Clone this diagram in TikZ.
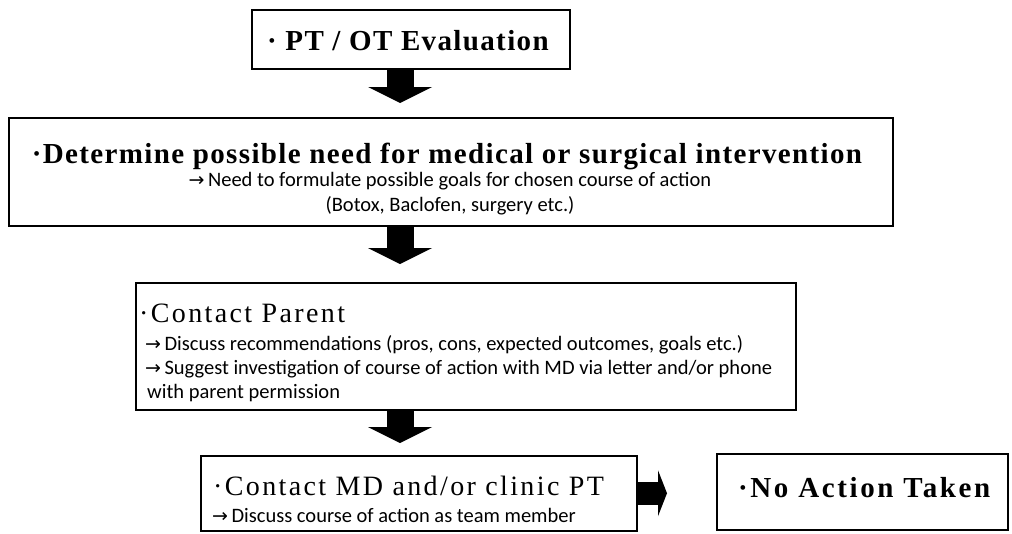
\documentclass[tikz,border=0pt]{standalone}
\usepackage{fontspec}
\setmainfont{Liberation Serif}
\newfontfamily\headfont[LetterSpace=4.7]{Liberation Serif}
\newfontfamily\sidefont[LetterSpace=9]{Liberation Serif}
\newfontfamily\stepfont[LetterSpace=8.5]{Liberation Serif}
\newfontfamily\notefont{Carlito}
\newfontfamily\arrowfont{DejaVu Sans}
\usetikzlibrary{arrows.meta}

\newcommand{\notearrow}{{\arrowfont\fontsize{19}{20}\selectfont →}\,}

\tikzset{
  flowbox/.style={draw, line width=1.5pt, inner sep=0pt, anchor=north west},
  headtext/.style={anchor=base west, inner sep=0pt, font={\headfont\bfseries\fontsize{29}{34}\selectfont}},
  steptext/.style={anchor=base west, inner sep=0pt, font={\stepfont\fontsize{28}{33}\selectfont}},
  notetext/.style={anchor=base west, inner sep=0pt, font={\notefont\fontsize{20.5}{24}\selectfont}},
  downarrow/.style={line width=27pt, -{Triangle[width=64pt, length=16pt, line width=0pt]}},
  sidearrow/.style={line width=23pt, -{Triangle[width=46pt, length=9pt, line width=0pt]}}
}

\begin{document}
\begin{tikzpicture}[x=1pt, y=-1pt]
  \path[fill=white, use as bounding box] (0,0) rectangle (1012,533);

  % boxes
  \node[flowbox, minimum width=318pt, minimum height=59pt] (evalbox) at (251,9) {};
  \node[flowbox, minimum width=884pt, minimum height=108pt] (determinebox) at (8,117) {};
  \node[flowbox, minimum width=660pt, minimum height=127pt] (parentbox) at (135,282) {};
  \node[flowbox, minimum width=436pt, minimum height=75pt] (mdbox) at (200,455) {};
  \node[flowbox, minimum width=291pt, minimum height=76pt] (noactionbox) at (716,453) {};

  % texts
  \node[headtext] (evaltitle) at (267,50) {· PT / OT Evaluation};
  \node[headtext, anchor=base] (determinetitle) at (447,163) {·Determine possible need for medical or surgical intervention};
  \node[notetext, anchor=base] (determinenote) at (450,186) {\notearrow Need to formulate possible goals for chosen course of action};
  \node[notetext, anchor=base] (determinelist) at (450,211) {(Botox, Baclofen, surgery etc.)};

  \node[steptext] (parenttitle) at (139,322) {·Contact Parent};
  \node[notetext] (parentnote) at (145,350) {\notearrow Discuss recommendations (pros, cons, expected outcomes, goals etc.)};
  \node[notetext] (parentmd) at (145,374) {\notearrow Suggest investigation of course of action with MD via letter and/or phone};
  \node[notetext] (parentperm) at (147,398) {with parent permission};

  \node[steptext] (mdtitle) at (213,495) {·Contact MD and/or clinic PT};
  \node[notetext] (mdnote) at (212,522) {\notearrow Discuss course of action as team member};

  \node[headtext, font={\sidefont\bfseries\fontsize{29}{34}\selectfont}] (noactiontitle) at (738,497) {·No Action Taken};

  % arrows
  \coordinate (spine) at (400,0);
  \draw[downarrow, shorten >=14pt] (evalbox.south -| spine) -- (determinebox.north -| spine);
  \draw[downarrow, shorten >=18pt] (determinebox.south -| spine) -- (parentbox.north -| spine);
  \draw[downarrow, shorten >=12pt] (parentbox.south -| spine) -- (mdbox.north -| spine);
  \draw[sidearrow, shorten >=49pt] (mdbox.east) -- (mdbox.east -| noactionbox.west);
\end{tikzpicture}
\end{document}
